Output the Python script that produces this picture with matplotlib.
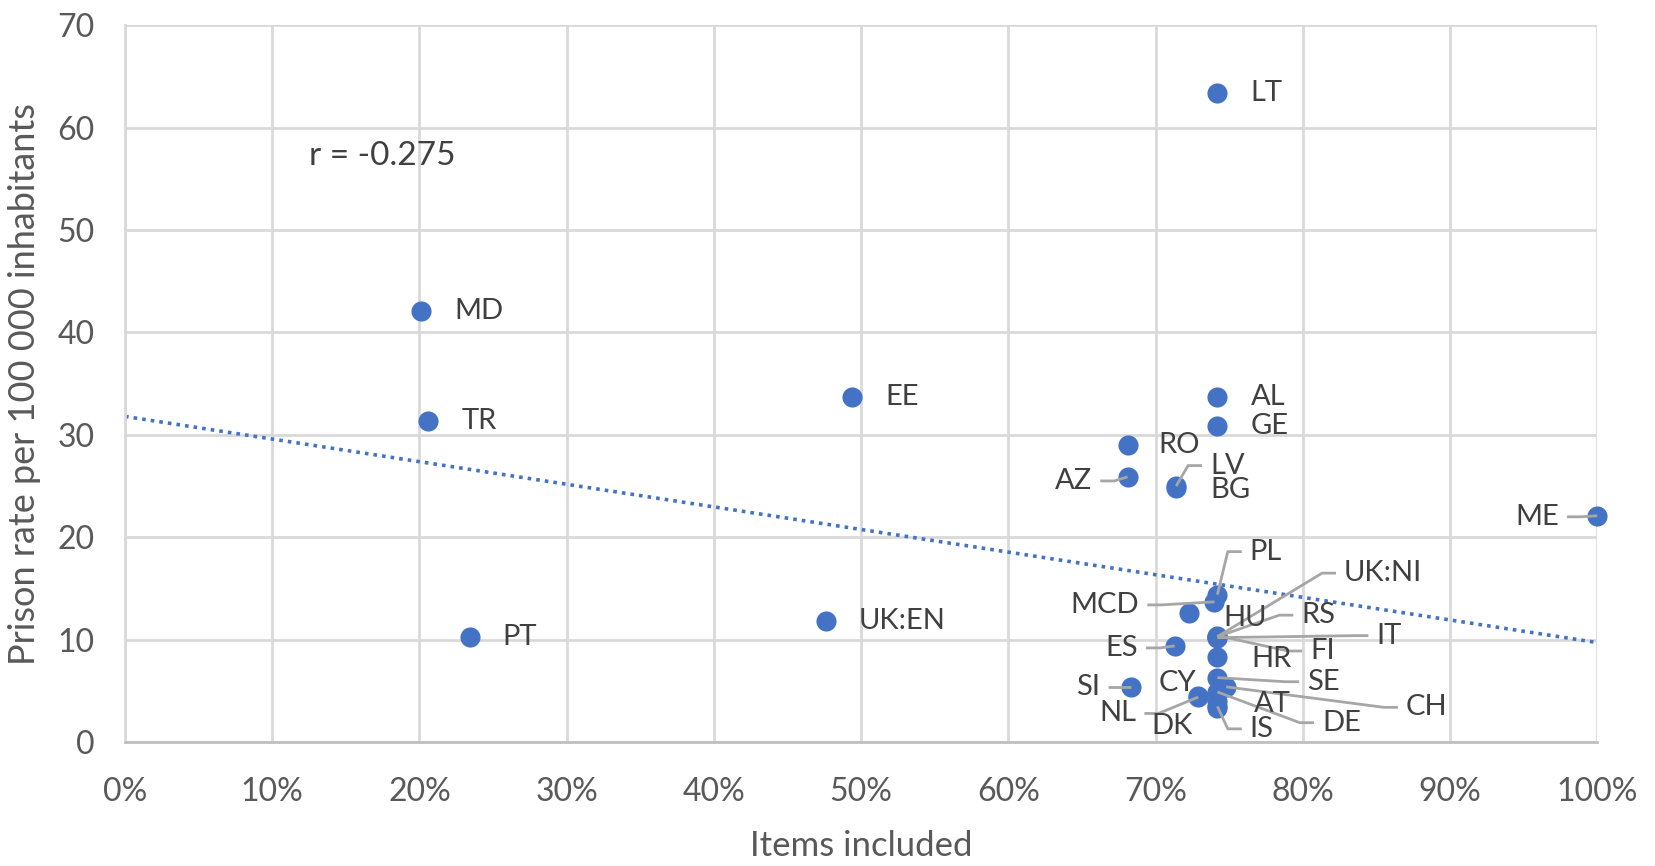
import numpy as np
import matplotlib
matplotlib.use("Agg")
import matplotlib.pyplot as plt
from matplotlib.ticker import FuncFormatter

# ---- data ----
countries = ["LT", "MD", "EE", "TR", "AL", "GE", "RO", "AZ", "LV", "BG", "ME",
             "PL", "MCD", "HU", "UK:NI", "RS", "IT", "FI", "ES", "HR", "SE",
             "CH", "DE", "SI", "CY", "NL", "DK", "AT", "IS", "PT", "UK:EN"]
items_included = [74.2, 20.1, 49.4, 20.6, 74.2, 74.2, 68.1, 68.1, 71.4, 71.4, 100.0,
                  74.2, 74.0, 72.3, 74.2, 74.2, 74.2, 74.2, 71.3, 74.2, 74.2,
                  74.8, 74.2, 68.3, 72.9, 72.9, 74.2, 74.2, 74.2, 23.4, 47.6]
prison_rate = [63.4, 42.1, 33.7, 31.4, 33.7, 30.9, 29.0, 25.9, 25.0, 24.8, 22.1,
               14.4, 13.7, 12.6, 10.3, 10.3, 10.2, 10.4, 9.4, 8.3, 6.3,
               5.4, 4.9, 5.4, 4.5, 4.4, 3.3, 4.0, 3.5, 10.3, 11.8]
r_text = "r = -0.275"
x_ticks = list(range(0, 101, 10))
y_ticks = list(range(0, 71, 10))

# ---- label placement (text anchor in data coords, ha, leader?) ----
DEFAULT_DX = 2.25
label_pos = {
    "AZ": (65.7, 25.5, "right", True),
    "LV": (73.7, 27.0, "left", True),
    "ME": (97.4, 22.0, "right", True),
    "PL": (76.4, 18.6, "left", True),
    "UK:NI": (82.8, 16.5, "left", True),
    "MCD": (68.9, 13.4, "right", True),
    "RS": (79.9, 12.4, "left", True),
    "IT": (85.0, 10.4, "left", True),
    "ES": (68.8, 9.2, "right", True),
    "FI": (80.5, 8.9, "left", True),
    "SE": (80.3, 5.9, "left", True),
    "SI": (66.2, 5.4, "right", True),
    "NL": (68.7, 2.8, "right", True),
    "CH": (87.0, 3.4, "left", True),
    "DE": (81.3, 1.9, "left", True),
    "IS": (76.4, 1.3, "left", True),
    "CY": (70.2, 5.8, "left", False),
    "DK": (69.7, 1.6, "left", False),
    "AT": (76.7, 3.7, "left", False),
    "HR": (76.5, 8.1, "left", False),
    "HU": (74.6, 12.1, "left", False),
    "BG": (73.7, 24.6, "left", False),
    "RO": (70.2, 29.0, "left", False),
}

FONT = ["Lato", "DejaVu Sans"]
plt.rcParams["font.family"] = FONT
TXT = "#595959"
LBL = "#404040"
GRID = "#d9d9d9"
BLUE = "#4472C4"
LEAD = "#a6a6a6"

fig = plt.figure(figsize=(16.56, 8.66), dpi=100)
ax = fig.add_axes([0.0755, 0.143, 0.889, 0.828])

ax.set_xlim(0, 100)
ax.set_ylim(0, 70)
ax.set_xticks(x_ticks)
ax.set_yticks(y_ticks)
ax.xaxis.set_major_formatter(FuncFormatter(lambda v, p: f"{v:.0f}%"))
ax.grid(True, color=GRID, lw=2)
ax.set_axisbelow(True)
for s in ["top", "right"]:
    ax.spines[s].set_visible(False)
for s in ["left", "bottom"]:
    ax.spines[s].set_color(GRID)
    ax.spines[s].set_linewidth(2)
ax.spines["bottom"].set_color("#bfbfbf")
ax.tick_params(length=0, labelsize=23, colors=TXT)
ax.tick_params(axis="x", pad=25)
ax.tick_params(axis="y", pad=22)

ax.set_xlabel("Items included", fontsize=25, color=TXT, labelpad=17)
ax.set_ylabel("Prison rate per 100 000 inhabitants", fontsize=26, color=TXT,
              labelpad=12)

x = np.array(items_included)
y = np.array(prison_rate)

# trend line
slope, intercept = np.polyfit(x, y, 1)
xt = np.array([0, 100])
ax.plot(xt, intercept + slope * xt, color=BLUE, lw=2.6, ls=(0, (1, 1.4)),
        zorder=2)

ax.scatter(x, y, s=210, color=BLUE, zorder=3, linewidths=0, clip_on=False)

ax.text(12.5, 57.2, r_text, fontsize=24, color=LBL, ha="left", va="center")

fig.canvas.draw()
to_disp = ax.transData.transform
inv = ax.transData.inverted().transform

for c, px, py in zip(countries, x, y):
    if c in label_pos:
        tx, ty, ha, lead = label_pos[c]
    else:
        tx, ty, ha, lead = px + DEFAULT_DX, py, "left", False
    ax.text(tx, ty, c, fontsize=21, color=LBL, ha=ha, va="center", zorder=5)
    if lead:
        ax_px, ay_px = to_disp((tx, ty))
        side = -1 if ha == "left" else 1
        p1 = (ax_px + side * 8, ay_px)
        p2 = (ax_px + side * 22, ay_px)
        pt = to_disp((px, py))
        pts = inv(np.array([p1, p2, pt]))
        ax.plot(pts[:, 0], pts[:, 1], color=LEAD, lw=2, zorder=4,
                solid_capstyle="butt", clip_on=False)

fig.savefig("out.png", dpi=100)
